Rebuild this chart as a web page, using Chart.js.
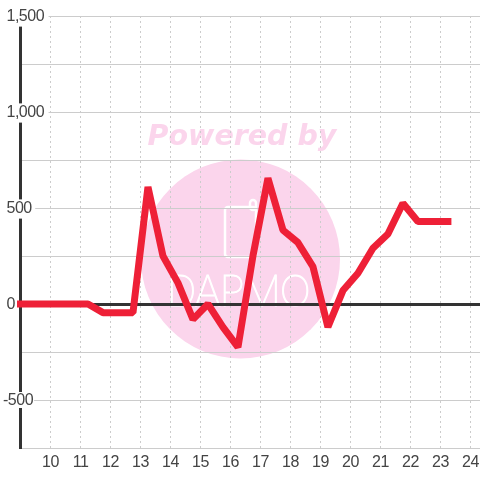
<!DOCTYPE html>
<html>
<head>
<meta charset="utf-8">
<style>
html, body { margin: 0; padding: 0; background: #fff; }
#wrap { width: 480px; height: 480px; }
</style>
<script src="https://cdn.jsdelivr.net/npm/chart.js@4/dist/chart.umd.min.js"></script>
</head>
<body>
<div id="wrap"><canvas id="chart" width="480" height="480"></canvas></div>
<script>
const hours = [8.75, 9.25, 9.75, 10.25, 10.75, 11.25, 11.75, 12.25, 12.75, 13.25, 13.75, 14.25, 14.75, 15.25, 15.75, 16.25, 16.75, 17.25, 17.75, 18.25, 18.75, 19.25, 19.75, 20.25, 20.75, 21.25, 21.75, 22.25, 22.75, 23.25];
const values = [0, 0, 0, 0, 0, 0, -45, -45, -45, 610, 250, 110, -80, 0, -120, -225, 250, 655, 385, 320, 195, -120, 70, 160, 290, 365, 525, 430, 430, 430];

const tickFont = { family: '"Liberation Sans", Arial, sans-serif', size: 16 };

const watermark = {
    id: 'watermark',
    beforeDraw(chart) {
        const ctx = chart.ctx;
        ctx.letterSpacing = '-0.5px';
        ctx.save();
        ctx.letterSpacing = '0px';
        ctx.fillStyle = '#fbd5ec';
        ctx.beginPath();
        ctx.arc(240.5, 259, 99.5, 0, Math.PI * 2);
        ctx.fill();
        ctx.font = 'italic bold 28.5px "DejaVu Sans"';
        ctx.textAlign = 'center';
        ctx.fillText('Powered by', 242, 145);
        ctx.strokeStyle = '#fff';
        ctx.lineWidth = 2.5;
        ctx.beginPath();
        ctx.roundRect(225, 207, 31, 50, 3);
        ctx.stroke();
        ctx.beginPath();
        ctx.roundRect(250, 200, 6, 10, 3);
        ctx.stroke();
        ctx.fillStyle = '#fff';
        ctx.font = '100 42px Inter, "Liberation Sans"';
        ctx.letterSpacing = '-1.5px';
        ctx.lineWidth = 1;
        ctx.fillText('DAPMO', 238, 306);
        ctx.strokeText('DAPMO', 238, 306);
        ctx.restore();
    }
};

// the -500 label hangs further left than the others
const negLabel = {
    id: 'negLabel',
    beforeDatasetsDraw(chart) {
        const ctx = chart.ctx;
        const y = chart.scales.y.getPixelForValue(-500);
        ctx.save();
        ctx.fillStyle = '#fff';
        ctx.fillRect(1, y - 8, 33, 16);
        ctx.fillStyle = '#444';
        ctx.font = '16px "Liberation Sans"';
        ctx.textBaseline = 'middle';
        ctx.fillText('-500', 3, y + 1);
        ctx.restore();
    }
};

new Chart(document.getElementById('chart'), {
    type: 'line',
    data: {
        datasets: [{
            data: hours.map((h, i) => ({ x: h, y: values[i] })),
            borderColor: '#ee2037',
            borderWidth: 7,
            borderJoinStyle: 'bevel',
            borderCapStyle: 'square',
            clip: { left: 3.5, right: 0, top: 0, bottom: 0 },
            pointRadius: 0,
            tension: 0,
            fill: false
        }]
    },
    options: {
        responsive: false,
        animation: false,
        layout: { padding: { top: 16, left: 0, right: 0, bottom: 0 } },
        plugins: { legend: { display: false }, tooltip: { enabled: false } },
        scales: {
            x: {
                type: 'linear',
                min: 9,
                max: 24.32,
                afterFit: s => { s.height = 32; },
                border: { display: false, dash: [2, 3] },
                grid: { color: '#ccc', tickColor: 'transparent', tickLength: 5 },
                ticks: {
                    stepSize: 1,
                    includeBounds: false,
                    maxRotation: 0,
                    autoSkip: false,
                    padding: 0,
                    color: '#444',
                    font: tickFont,
                    callback: v => (v === 9 ? '' : String(v))
                }
            },
            y: {
                min: -750,
                max: 1500,
                afterFit: s => { s.width = 20.5; },
                border: { display: true, color: '#333', width: 3 },
                grid: {
                    drawTicks: false,
                    color: c => (c.tick.value === 0 ? '#333' : '#ccc'),
                    lineWidth: c => (c.tick.value === 0 ? 3 : 1)
                },
                ticks: {
                    stepSize: 250,
                    mirror: true,
                    padding: -14,
                    labelOffset: 1,
                    color: '#444',
                    font: tickFont,
                    showLabelBackdrop: c => c.tick.value !== 0,
                    backdropColor: '#fff',
                    backdropPadding: { x: 2, y: 0 },
                    callback: v => (v % 500 === 0 && v !== -500 ? v.toLocaleString('en-US') : '')
                }
            }
        }
    },
    plugins: [watermark, negLabel]
});
</script>
</body>
</html>
